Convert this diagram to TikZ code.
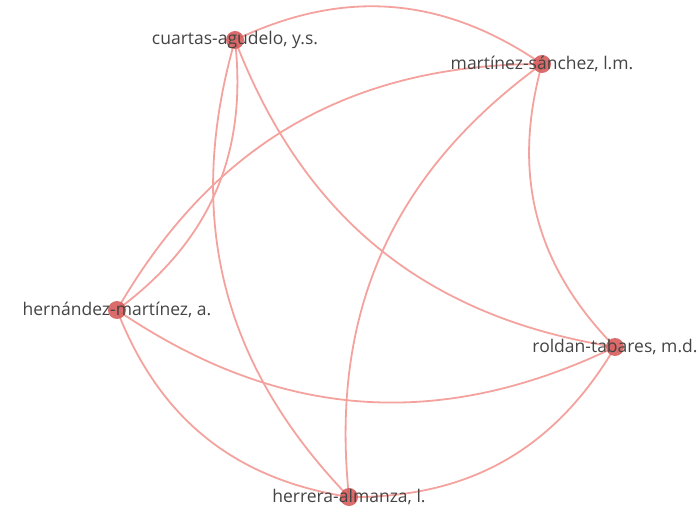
\documentclass[tikz,border=0pt]{standalone}
\usepackage{fontspec}
\setmainfont{Open Sans}
\usetikzlibrary{backgrounds}
\definecolor{linkred}{HTML}{F4A29E}
\definecolor{nodered}{HTML}{D65D5C}
\definecolor{labelgray}{HTML}{444444}
\begin{document}
\begin{tikzpicture}[x=1pt,y=1pt,
  author/.style={circle,fill=nodered,fill opacity=0.9,inner sep=0pt,minimum size=18pt},
  lbl/.style={text=labelgray,font=\fontsize{17.5}{20}\selectfont,inner sep=0pt},
  link/.style={draw=linkred,line width=1.8pt}]
\useasboundingbox (0,0) rectangle (700,509);
% authors
\node[author] (C) at (235,469) {};
\node[author] (M) at (542,445) {};
\node[author] (H) at (117,199) {};
\node[author] (R) at (615,162) {};
\node[author] (E) at (349,12) {};
% links
\begin{pgfonlayer}{background}
\draw[link] (M.center) to[bend right=30] (C.center);
\draw[link] (H.center) to[bend right=30] (C.center);
\draw[link] (C.center) to[bend right=30] (E.center);
\draw[link] (C.center) to[bend right=30] (R.center);
\draw[link] (M.center) to[bend right=30] (H.center);
\draw[link] (M.center) to[bend right=30] (R.center);
\draw[link] (M.center) to[bend right=30] (E.center);
\draw[link] (H.center) to[bend right=30] (R.center);
\draw[link] (H.center) to[bend right=30] (E.center);
\draw[link] (E.center) to[bend right=30] (R.center);
\end{pgfonlayer}
% labels
\node[lbl] (Cl) at (C) {cuartas-agudelo, y.s.};
\node[lbl] (Ml) at (M) {martínez-sánchez, l.m.};
\node[lbl] (Hl) at (H) {hernández-martínez, a.};
\node[lbl] (Rl) at (R) {roldan-tabares, m.d.};
\node[lbl] (El) at (E) {herrera-almanza, l.};
\end{tikzpicture}
\end{document}
